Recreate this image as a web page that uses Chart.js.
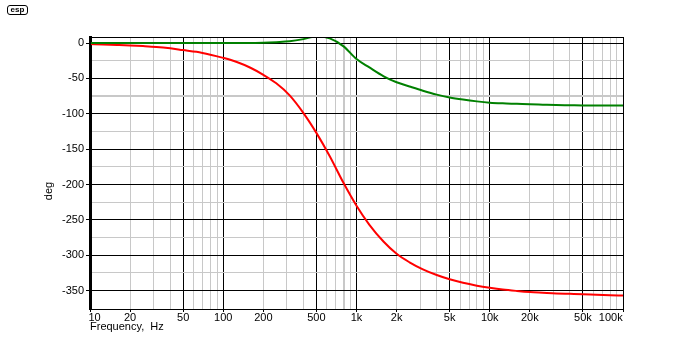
<!DOCTYPE html>
<html>
<head>
<meta charset="utf-8">
<script src="https://cdn.jsdelivr.net/npm/chart.js@4"></script>
<style>
    body { margin: 0; background: #fff; }
    #wrap { position: relative; width: 700px; height: 350px; }
    #logo {
        position: absolute; left: 7px; top: 5px; width: 19px; height: 8px;
        border: 1px solid #000; border-radius: 3px;
        font: bold 8px "Liberation Sans", Arial, sans-serif; line-height: 8px;
        text-align: center; color: #000;
    }
</style>
</head>
<body>
<div id="wrap">
    <canvas id="chart" width="700" height="350"></canvas>
    <div id="logo">esp</div>
</div>
<script>
// frequency points (Hz), 10 per decade
const freqs = [10, 12.5, 16, 20, 25, 31.5, 40, 50, 63, 80,
    100, 125, 160, 200, 250, 315, 400, 500, 630, 800,
    1000, 1250, 1600, 2000, 2500, 3150, 4000, 5000, 6300, 8000,
    10000, 12500, 16000, 20000, 25000, 31500, 40000, 50000, 63000, 80000, 100000];

// red trace (deg)
const phaseRed = [-1.5, -2, -2.7, -3.4, -4.3, -5.5, -7.5, -10, -12.5, -16.5,
    -21, -26.5, -35, -45, -57, -74, -99, -127, -160, -198,
    -230, -257, -281, -298, -310, -320, -328, -334, -339, -343,
    -346, -348.5, -350.5, -352, -353, -354, -354.5, -355, -355.8, -356.5, -357];

// green trace (deg)
const phaseGreen = [0, 0, 0, 0, 0, 0, 0, 0, 0, 0,
    0, 0, 0.1, 0.4, 1.2, 2.4, 5.5, 9.5, 6.5, -4.7,
    -22.7, -34.5, -47, -55.5, -61.5, -67.5, -73, -77, -80, -82.5,
    -84.3, -85.3, -86, -86.7, -87.2, -87.7, -88, -88.3, -88.4, -88.5, -88.5];

// tick labels
const xLabelValues = [10, 20, 50, 100, 200, 500, 1000, 2000, 5000, 10000, 20000, 50000, 100000];
const xLabelTexts = ['   10', '20', '50', '100', '200', '500', '1k', '2k', '5k', '10k', '20k', '50k', '100k        '];
const yTickValues = [-350, -325, -300, -275, -250, -225, -200, -175, -150, -125, -100, -75, -50, -25, 0];

const GRAY = '#c8c8c8';
const FONT = { family: '"Liberation Sans", Arial, sans-serif', size: 11 };

// all 1..9 x 10^n grid positions
const xGrid = [];
for (let e = 1; e <= 4; e++) {
    for (let m = 1; m <= 9; m++) xGrid.push(m * Math.pow(10, e));
}
xGrid.push(100000);

function mantissa(v) {
    return Math.round(v / Math.pow(10, Math.floor(Math.log10(v) + 1e-9)));
}

const frame = {
    id: 'frame',
    afterDraw(chart) {
        const { ctx, chartArea: a } = chart;
        ctx.save();
        ctx.strokeStyle = '#000';
        ctx.lineWidth = 1;
        ctx.strokeRect(Math.round(a.left) + 0.5, Math.round(a.top) + 0.5,
            Math.round(a.right - a.left), Math.round(a.bottom - a.top));
        // y axis title
        ctx.translate(49, 191);
        ctx.rotate(-Math.PI / 2);
        ctx.font = '11px "Liberation Sans", Arial, sans-serif';
        ctx.fillStyle = '#000';
        ctx.textAlign = 'center';
        ctx.textBaseline = 'middle';
        ctx.fillText('deg', 0, 0);
        ctx.restore();
    }
};

new Chart(document.getElementById('chart'), {
    type: 'line',
    data: {
        datasets: [
            {
                data: freqs.map((f, i) => ({ x: f, y: phaseGreen[i] })),
                borderColor: '#008000',
                borderWidth: 2,
                pointRadius: 0,
                cubicInterpolationMode: 'monotone'
            },
            {
                data: freqs.map((f, i) => ({ x: f, y: phaseRed[i] })),
                borderColor: '#ff0000',
                borderWidth: 2,
                pointRadius: 0,
                cubicInterpolationMode: 'monotone'
            }
        ]
    },
    options: {
        responsive: false,
        animation: false,
        layout: { padding: { left: 0, top: 37, right: 77, bottom: 0 } },
        plugins: {
            legend: { display: false },
            tooltip: { enabled: false }
        },
        scales: {
            x: {
                type: 'logarithmic',
                min: 10,
                max: 100000,
                afterBuildTicks: scale => { scale.ticks = xGrid.map(v => ({ value: v })); },
                afterFit: scale => { scale.height = 41; },
                grid: {
                    color: ctx => {
                        const m = mantissa(ctx.tick.value);
                        return (m === 1 || m === 5) ? '#000' : GRAY;
                    },
                    lineWidth: ctx => ctx.tick.value === 800 ? 2 : 1,
                    tickColor: ctx => xLabelValues.includes(ctx.tick.value) ? '#000' : 'rgba(0,0,0,0)',
                    tickLength: 3,
                    tickWidth: 1
                },
                border: { color: '#000', width: 1 },
                ticks: {
                    autoSkip: false,
                    maxRotation: 0,
                    padding: -1,
                    color: '#000',
                    font: FONT,
                    callback: value => {
                        const i = xLabelValues.indexOf(value);
                        return i >= 0 ? xLabelTexts[i] : '';
                    }
                },
                title: {
                    display: true,
                    text: 'Frequency,  Hz',
                    align: 'start',
                    color: '#000',
                    font: FONT,
                    padding: { top: 0, bottom: 16 }
                }
            },
            y: {
                min: -376,
                max: 8.5,
                afterBuildTicks: scale => { scale.ticks = yTickValues.map(v => ({ value: v })); },
                afterFit: scale => { scale.width = 90; },
                grid: {
                    color: ctx => ctx.tick.value % 50 === 0 ? '#000' : GRAY,
                    lineWidth: ctx => ctx.tick.value === -75 ? 2 : 1,
                    tickColor: ctx => ctx.tick.value % 50 === 0 ? '#000' : 'rgba(0,0,0,0)',
                    tickLength: 4
                },
                border: { color: '#000', width: 3 },
                ticks: {
                    padding: 2,
                    color: '#000',
                    font: FONT,
                    callback: value => value % 50 === 0 ? String(value) : ''
                }
            }
        }
    },
    plugins: [frame]
});
</script>
</body>
</html>
